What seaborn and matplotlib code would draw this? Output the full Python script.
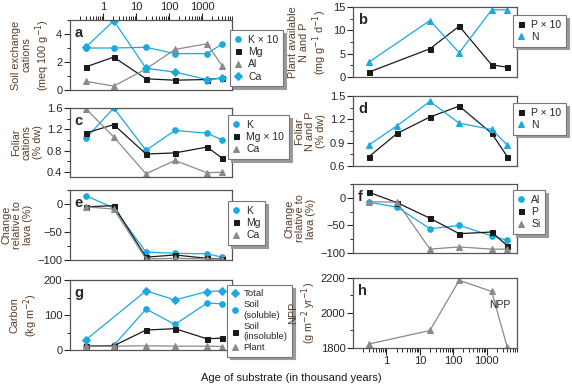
import numpy as np
import matplotlib
matplotlib.use('Agg')
import matplotlib.pyplot as plt
import matplotlib.ticker as mticker
import seaborn as sns

# ages of the chronosequence sites (thousand years)
ages = [0.3, 2.1, 20, 150, 1400, 4100]
ages5 = [0.3, 20, 150, 1400, 4100]
ages_total = [0.3, 20, 150, 1400, 4100]

# a: soil exchangeable cations
soil_k10 = [3.0, 3.0, 3.05, 2.6, 2.6, 3.3]
soil_mg = [1.65, 2.35, 0.8, 0.7, 0.75, 0.85]
soil_al = [0.62, 0.28, 1.5, 2.9, 3.3, 1.7]
soil_ca = [3.05, 4.95, 1.55, 1.28, 0.75, 0.85]

# b: plant available N and P
avail_p10 = [1.05, 6.05, 10.9, 2.6, 2.1]
avail_n = [3.2, 12.1, 5.2, 14.4, 14.4]

# c: foliar cations
fol_k = [1.03, 1.6, 0.81, 1.18, 1.13, 1.0]
fol_mg10 = [1.13, 1.29, 0.74, 0.76, 0.87, 0.66]
fol_ca = [1.59, 1.06, 0.37, 0.62, 0.39, 0.4]

# d: foliar N and P
fol_p10 = [0.72, 1.02, 1.23, 1.37, 1.02, 0.72]
fol_n = [0.87, 1.12, 1.43, 1.15, 1.07, 0.87]

# e: change relative to lava, cations
chg_k = [15, -7, -86, -88, -89, -95]
chg_mg = [-5, -3, -95, -91, -97, -98]
chg_ca = [-5, -9, -98, -97, -98, -98]

# f: change relative to lava, Al P Si
chg_al = [-8, -17, -56, -50, -69, -77]
chg_p = [10, -9, -37, -65, -62, -87]
chg_si = [-7, -8, -93, -89, -93, -93]

# g: carbon pools
c_total = [29, 169, 143, 167, 169]
c_soluble = [11, 13, 117, 73, 134, 132]
c_insoluble = [11, 12, 57, 61, 32, 34]
c_plant = [11, 11, 12, 11, 11, 10]

# h: NPP
npp = [1823, 1900, 2187, 2123, 1804]

CYAN = '#1aa9e0'
BLACK = '#1a1a1a'
GRAY = '#8a8a8a'
LABEL = '#5a3d28'
MS = {'o': 4.0, 's': 3.6, '^': 4.2, 'D': 3.6}

sns.set_style('ticks')
plt.rcParams['font.family'] = ['Liberation Sans', 'DejaVu Sans']
plt.rcParams['font.size'] = 7.5

W, H = 572, 389
fig = plt.figure(figsize=(W / 100, H / 100), dpi=100)


def make_ax(x0, x1, y0, y1):
    return fig.add_axes([x0 / W, 1 - y1 / H, (x1 - x0) / W, (y1 - y0) / H])


def series(ax, x, y, color, marker, label):
    sns.lineplot(x=x, y=y, ax=ax, color=color, marker=marker, markersize=MS[marker],
                 markeredgecolor=color, linewidth=0.9, label=label,
                 errorbar=None, estimator=None, sort=False)


def style(ax, letter, ylabel, ylim, yticks, minor, top=False, bottom=False, lpad=3):
    ax.set_xscale('log')
    ax.set_xlim(0.1, 8000)
    ax.set_ylim(*ylim)
    ax.set_yticks(yticks)
    ax.yaxis.set_minor_locator(mticker.MultipleLocator(minor))
    for s in ax.spines.values():
        s.set_visible(True)
        s.set_color('#555555')
        s.set_linewidth(0.9)
    ax.tick_params(axis='y', which='major', length=4, width=0.8, labelsize=8, pad=1.5)
    ax.tick_params(axis='y', which='minor', length=2, width=0.7)
    if top or bottom:
        ax.xaxis.set_major_locator(mticker.FixedLocator([1, 10, 100, 1000]))
        ax.xaxis.set_major_formatter(mticker.FixedFormatter(['1', '10', '100', '1000']))
        ax.xaxis.set_minor_locator(mticker.LogLocator(base=10, subs=np.arange(2, 10)))
        ax.xaxis.set_minor_formatter(mticker.NullFormatter())
        ax.tick_params(axis='x', which='major', length=5, width=0.8, labelsize=8,
                       top=top, bottom=bottom, labeltop=top, labelbottom=bottom, pad=1)
        ax.tick_params(axis='x', which='minor', length=3, width=0.7,
                       top=top, bottom=bottom)
    else:
        ax.set_xticks([])
        ax.xaxis.set_minor_locator(mticker.NullLocator())
    ax.set_xlabel('')
    ax.set_ylabel(ylabel, color=LABEL, fontsize=7.8, linespacing=1.12, labelpad=lpad)
    ax.text(0.03, 0.91, letter, transform=ax.transAxes, fontsize=10.5,
            fontweight='bold', va='top', ha='left')


def legend(ax, x0, y0, fs=7.5):
    lg = ax.legend(loc='upper left', bbox_to_anchor=(x0 / W, 1 - y0 / H),
                   bbox_transform=fig.transFigure, frameon=True, borderaxespad=0,
                   shadow={'color': '#9a9a9a', 'alpha': 1.0},
                   fancybox=False, fontsize=fs, handlelength=0.7, markerscale=1.0,
                   handletextpad=0.6, borderpad=0.45, labelspacing=0.22)
    lg.get_frame().set_edgecolor('#777777')
    lg.get_frame().set_linewidth(0.8)
    for h in lg.legend_handles:
        h.set_linestyle('none')
    return lg


# panel a
ax = make_ax(70, 232, 20, 90)
series(ax, ages, soil_k10, CYAN, 'o', 'K \u00d7 10')
series(ax, ages, soil_mg, BLACK, 's', 'Mg')
series(ax, ages, soil_al, GRAY, '^', 'Al')
series(ax, ages, soil_ca, CYAN, 'D', 'Ca')
style(ax, 'a', 'Soil exchange\ncations\n(meq 100 g$^{-1}$)', (0, 5), [0, 2, 4], 1, top=True)
legend(ax, 230, 30)

# panel b
ax = make_ax(353, 517, 7, 77)
series(ax, ages5, avail_p10, BLACK, 's', 'P \u00d7 10')
series(ax, ages5, avail_n, CYAN, '^', 'N')
style(ax, 'b', 'Plant available\nN and P\n(mg g$^{-1}$ d$^{-1}$)', (0, 15), [0, 5, 10, 15], 2.5)
legend(ax, 513, 15)

# panel c
ax = make_ax(70, 232, 108, 177)
series(ax, ages, fol_k, CYAN, 'o', 'K')
series(ax, ages, fol_mg10, BLACK, 's', 'Mg \u00d7 10')
series(ax, ages, fol_ca, GRAY, '^', 'Ca')
style(ax, 'c', 'Foliar\ncations\n(% dw)', (0.31, 1.6), [0.4, 0.8, 1.2, 1.6], 0.2)
legend(ax, 228, 115)

# panel d
ax = make_ax(353, 517, 96, 166)
series(ax, ages, fol_p10, BLACK, 's', 'P \u00d7 10')
series(ax, ages, fol_n, CYAN, '^', 'N')
style(ax, 'd', 'Foliar\nN and P\n(% dw)', (0.6, 1.5), [0.6, 0.9, 1.2, 1.5], 0.15)
legend(ax, 513, 103)

# panel e
ax = make_ax(70, 232, 190, 260)
series(ax, ages, chg_k, CYAN, 'o', 'K')
series(ax, ages, chg_mg, BLACK, 's', 'Mg')
series(ax, ages, chg_ca, GRAY, '^', 'Ca')
style(ax, 'e', 'Change\nrelative to\nlava (%)', (-100, 25), [-100, -50, 0], 25)
ax.set_yticklabels(['\u2212100', '\u221250', '0'])
legend(ax, 228, 201)

# panel f
ax = make_ax(353, 517, 184, 253)
series(ax, ages, chg_al, CYAN, 'o', 'Al')
series(ax, ages, chg_p, BLACK, 's', 'P')
series(ax, ages, chg_si, GRAY, '^', 'Si')
style(ax, 'f', 'Change\nrelative to\nlava (%)', (-100, 25), [-100, -50, 0], 25)
ax.set_yticklabels(['\u2212100', '\u221250', '0'])
legend(ax, 513, 190)

# panel g
ax = make_ax(70, 232, 280, 350)
series(ax, ages_total, c_total, CYAN, 'D', 'Total')
series(ax, ages, c_soluble, CYAN, 'o', 'Soil\n(soluble)')
series(ax, ages, c_insoluble, BLACK, 's', 'Soil\n(insoluble)')
series(ax, ages, c_plant, GRAY, '^', 'Plant')
style(ax, 'g', 'Carbon\n(kg m$^{-2}$)', (0, 200), [0, 100, 200], 50)
legend(ax, 227, 285, fs=6.8)

# panel h
ax = make_ax(353, 517, 278, 348)
series(ax, ages5, npp, GRAY, '^', None)
style(ax, 'h', 'NPP\n(g m$^{-2}$ yr$^{-1}$)', (1800, 2200), [1800, 2000, 2200], 100,
      bottom=True, lpad=2)
ax.text(2400, 2045, 'NPP', fontsize=7.5, ha='center', va='center')
if ax.get_legend() is not None:
    ax.get_legend().remove()

fig.text(0.51, 0.028, 'Age of substrate (in thousand years)', ha='center',
         va='center', fontsize=8, color=BLACK)

fig.savefig('out.png', dpi=100)
